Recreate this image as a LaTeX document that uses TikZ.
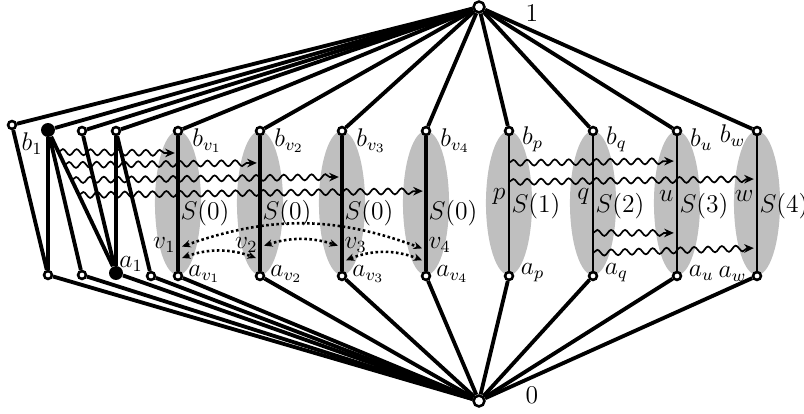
\documentclass[tikz,border=0pt]{standalone}
\usepackage{amsmath}
\usetikzlibrary{arrows.meta,calc,decorations.pathmorphing}

\tikzset{
  vtx/.style={circle,draw,fill=white,line width=1.2pt,inner sep=0pt,minimum size=1.3mm},
  pole/.style={vtx,minimum size=1.8mm},
  bigvtx/.style={circle,fill=black,inner sep=0pt,minimum size=2.3mm},
  edge/.style={line width=1.8pt},
  rung/.style={line width=0.8pt},
  blob/.style={fill=black!25},
  tag/.style={inner sep=0pt},
  wave/.style={decorate,decoration={snake,amplitude=1.4pt,segment length=6.5pt,post length=4pt},
    -{Stealth[length=4.5pt,width=4pt]},line width=0.8pt,shorten >=1.5pt},
  dotarc/.style={{Stealth[length=4pt,width=3.5pt]}-{Stealth[length=4pt,width=3.5pt]},
    line width=1.2pt,dash pattern=on 1.2pt off 1.2pt,shorten <=2pt,shorten >=2pt}
}

\begin{document}
\begin{tikzpicture}[x=0.0165cm,y=0.0165cm,font=\fontsize{11.5}{13}\selectfont]
  \useasboundingbox (0,0) rectangle (804,414);
  % grey regions S(.)
  \foreach \x in {178,260,342,426,509,593,677,757}
    \fill[blob] (\x,211) ellipse [x radius=0.38cm,y radius=1.19cm];
  % poles
  \node[pole] (one) at (479,407) {};
  \node[pole] (zero) at (479,13) {};
  \node (lone) at (532,401) {$1$};
  \node (lzero) at (532,19) {$0$};
  % left gadget
  \node[vtx] (tl0) at (12,289) {};
  \node[bigvtx] (b1) at (48,284) {};
  \node[vtx] (tl2) at (82,283) {};
  \node[vtx] (tl3) at (116,283) {};
  \node[vtx] (bl1) at (48,139) {};
  \node[vtx] (bl2) at (82,139) {};
  \node[bigvtx] (a1) at (116,141) {};
  \node[vtx] (bl4) at (151,138) {};
  \node (lb1) at (32,270) {$b_1$};
  \node (la1) at (131,150) {$a_1$};
  % copies of S(0)
  \foreach \i/\x/\side in {1/178/east,2/260/east,3/342/west,4/426/west} {
    \node[vtx] (bv\i) at (\x,283) {};
    \node[vtx] (av\i) at (\x,138) {};
    \node[tag,anchor=west] (lbv\i) at (\x+14,273) {$b_{v_\i}$};
    \node[tag,anchor=west] (lav\i) at (\x+10,140) {$a_{v_\i}$};
    \node[anchor=west,inner sep=1pt] (sv\i) at (\x,201) {$S(0)$};
    \node[anchor=\side,inner sep=1pt] (lv\i) at (\x,169) {$v_\i$};
  }
  % S(1) ... S(4)
  \foreach \n/\x/\k in {p/509/1,q/593/2,u/677/3,w/757/4} {
    \node[vtx] (b\n) at (\x,283) {};
    \node[vtx] (a\n) at (\x,138) {};
    \node[anchor=west,inner sep=1pt] (s\n) at (\x,208) {$S(\k)$};
    \node[anchor=east,inner sep=1.5pt] (l\n) at (\x,218) {$\n$};
  }
  \foreach \n in {p,q,u} {
    \node[tag,anchor=west] (lb\n) at ([xshift=0.21cm,yshift=-0.14cm]b\n) {$b_\n$};
    \node[tag,anchor=west] (la\n) at ([xshift=0.19cm,yshift=0.05cm]a\n) {$a_\n$};
  }
  \node[tag,anchor=east] (lbw) at ([xshift=-0.19cm,yshift=-0.08cm]bw) {$b_w$};
  \node[tag,anchor=east] (law) at ([xshift=-0.17cm,yshift=0.03cm]aw) {$a_w$};
  % edges
  \foreach \v in {tl0,b1,tl2,tl3,bv1,bv2,bv3,bv4,bp,bq,bu,bw}
    \draw[edge] (\v) -- (one);
  \foreach \v in {bl1,bl2,a1,bl4,av1,av2,av3,av4,ap,aq,au,aw}
    \draw[edge] (\v) -- (zero);
  \foreach \s/\t in {tl0/bl1,b1/bl1,b1/bl2,b1/a1,tl2/a1,tl3/a1,tl3/bl4}
    \draw[edge] (\s) -- (\t);
  \foreach \i in {1,...,4}
    \draw[edge] (bv\i) -- (av\i);
  \foreach \n in {p,q,u,w}
    \draw[rung] (b\n) -- (a\n);
  % wavy arrows
  \foreach \s/\t/\i in {0.154/0.152/1,0.245/0.22/2,0.35/0.317/3,0.455/0.414/4}
    \draw[wave] ($(b1)!\s!(a1)$) -- ($(bv\i)!\t!(av\i)$);
  \draw[wave] ($(bp)!0.22!(ap)$) -- ($(bu)!0.207!(au)$);
  \draw[wave] ($(bp)!0.352!(ap)$) -- ($(bw)!0.331!(aw)$);
  \draw[wave] ($(bq)!0.703!(aq)$) -- ($(bu)!0.703!(au)$);
  \draw[wave] ($(bq)!0.841!(aq)$) -- ($(bw)!0.807!(aw)$);
  % dotted exchanges
  \draw[dotarc] ($(bv1)!0.807!(av1)$) to[bend left=20] ($(bv4)!0.82!(av4)$);
  \draw[dotarc] ($(bv1)!0.886!(av1)$) to[bend left=20] ($(bv2)!0.886!(av2)$);
  \draw[dotarc] ($(bv2)!0.8!(av2)$) to[bend left=18] ($(bv3)!0.8!(av3)$);
  \draw[dotarc] ($(bv3)!0.903!(av3)$) to[bend left=22] ($(bv4)!0.903!(av4)$);
\end{tikzpicture}
\end{document}
